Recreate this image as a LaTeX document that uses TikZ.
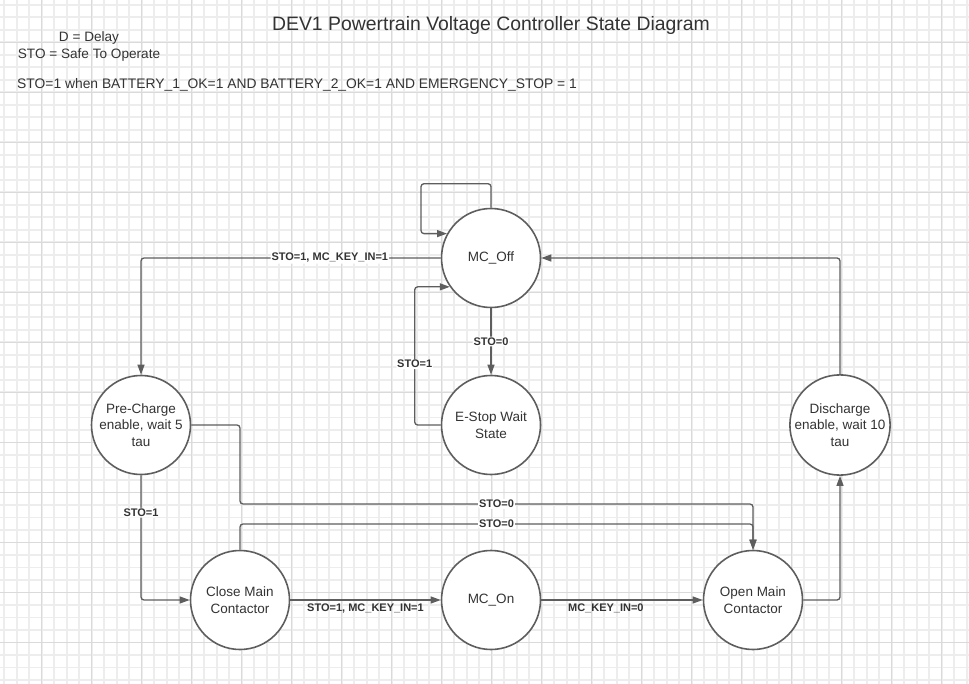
\documentclass[tikz,border=0pt]{standalone}
\usepackage{fontspec}
\setmainfont{Liberation Sans}
\usetikzlibrary{shapes.geometric, arrows.meta}
\definecolor{linegray}{HTML}{5E5E5E}
\definecolor{textgray}{HTML}{333333}
\definecolor{gridminor}{HTML}{EDEDED}
\definecolor{gridmajor}{HTML}{DADADA}
\tikzstyle{state} = [circle, minimum size=99pt, inner sep=0pt, align=center, draw=linegray, line width=1.6pt, fill=white, text=textgray, font=\fontsize{13.5}{16.5}\selectfont]
\tikzstyle{lbl} = [fill=white, inner sep=1pt, text=textgray, font=\fontsize{11}{13}\selectfont\bfseries]
\tikzstyle{arrow} = [line width=1.3pt, draw=linegray, rounded corners=3pt, -{Triangle[length=10pt,width=7pt]}]
\tikzstyle{minorline} = [draw=gridminor, line width=1.6pt]
\tikzstyle{majorline} = [draw=gridmajor, line width=0.8pt]

\begin{document}
\begin{tikzpicture}[x=1pt, y=-1pt, node distance=175pt]
\useasboundingbox (0,0) rectangle (969,684);
\fill[white] (0,0) rectangle (969,684);
% grid paper
\foreach \i in {0,...,77} \draw[minorline] ({4.2+12.5*\i},0) -- ({4.2+12.5*\i},684);
\foreach \j in {0,...,54} \draw[minorline] (0,{4.8+12.5*\j}) -- (969,{4.8+12.5*\j});
\foreach \i in {0,...,18} \draw[majorline] ({41.7+50*\i},0) -- ({41.7+50*\i},684);
\foreach \j in {0,...,12} \draw[majorline] (0,{42.3+50*\j}) -- (969,{42.3+50*\j});

% notes
\node (title) [text=textgray, font=\fontsize{19.4}{23}\selectfont] at (491,25) {DEV1 Powertrain Voltage Controller State Diagram};
\node (legend) [text=textgray, align=center, font=\fontsize{13.6}{17}\selectfont] at (89,46.5) {D = Delay\\STO = Safe To Operate};
\node (rule) [anchor=west, inner sep=0pt, text=textgray, font=\fontsize{13.85}{17}\selectfont] at (17,85) {STO=1 when BATTERY\_1\_OK=1 AND BATTERY\_2\_OK=1 AND EMERGENCY\_STOP = 1};

% states
\node (off) [state] at (491,258) {MC\_Off};
\node (estop) [state, below of=off, yshift=8pt] {E-Stop Wait\\State};
\node (mcon) [state, below of=estop] {MC\_On};
\node (close) [state, left of=mcon, xshift=-76pt] {Close Main\\Contactor};
\node (open) [state, right of=mcon, xshift=87pt] {Open Main\\Contactor};
\node (pre) [state, left of=estop, xshift=-175pt] {Pre-Charge\\enable, wait 5\\tau};
\node (dis) [state, right of=estop, xshift=174pt] {Discharge\\enable, wait 10\\tau};
\coordinate (bendA) at (240,504);
\coordinate (bendB) at (240,524);

% transitions
\draw [arrow] (off.north) -- ++(0,-24) -- ++(-70,0) |- (off.151);
\draw [arrow] (off.west) -| node[lbl, pos=0.185] {STO=1, MC\_KEY\_IN=1} (pre.north);
\draw [arrow] (off) -- node[lbl] {STO=0} (estop);
\draw [arrow] (estop.west) -- ++(-26,0) |- node[lbl, pos=0.22] {STO=1} (off.215);
\draw [arrow] (dis.north) |- (off.east);
\draw [arrow] (pre.south) |- node[lbl, pos=0.15] {STO=1} (close.west);
\draw [arrow] (pre.east) -| (bendA) -- node[lbl] {STO=0} (bendA -| open.north) -- (open.north);
\draw [arrow] (close.north) -- (bendB) -- node[lbl] {STO=0} (bendB -| open.north) -- (open.north);
\draw [arrow] (close) -- node[lbl, below, fill=none, yshift=-2pt] {STO=1, MC\_KEY\_IN=1} (mcon);
\draw [arrow] (mcon) -- node[lbl, below, fill=none, yshift=-2pt, pos=0.4] {MC\_KEY\_IN=0} (open);
\draw [arrow] (open.east) -| (dis.south);
\end{tikzpicture}
\end{document}
